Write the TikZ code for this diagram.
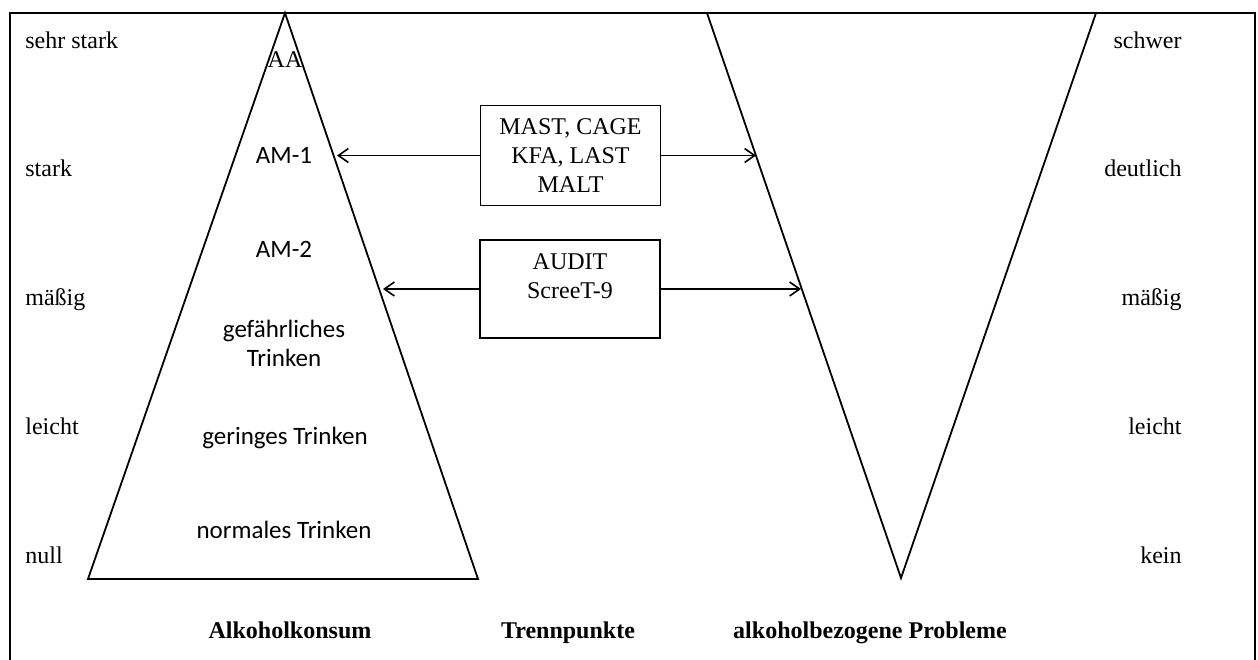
\documentclass[tikz,border=0pt]{standalone}
\usepackage{fontspec}
\setmainfont{Liberation Serif}
\newfontfamily\calibrifont{Carlito}
\usetikzlibrary{arrows.meta,positioning}

\begin{document}
\begin{tikzpicture}[
  x=0.5pt, y=-0.5pt,
  scalelbl/.style={font=\fontsize{12}{14.4}\selectfont, inner sep=0pt},
  level/.style={font=\calibrifont\fontsize{12.5}{14.6}\selectfont,
    align=center, inner sep=0pt},
  box/.style={draw, line width=0.9pt, font=\fontsize{12}{14.4}\selectfont,
    align=center, minimum width=90pt, minimum height=50pt, inner sep=2pt},
  title/.style={font=\bfseries\fontsize{12}{14.4}\selectfont, inner sep=0pt},
  arrow/.style={-{Straight Barb[length=5pt,width=7pt]}, line width=0.8pt},
  edge/.style={line width=0.9pt, line join=miter},
]
  \useasboundingbox (0,0) rectangle (1258,659);
  \clip (0,0) rectangle (1258,659);

  % Rahmen
  \draw[line width=1pt] (10,680) -- (10,13) -- (1255,13) -- (1255,680);

  % Pyramide Alkoholkonsum
  \coordinate (topL) at (285,13);
  \coordinate (baseLW) at (88,579);
  \coordinate (baseLE) at (478,579);
  \draw[edge] (topL) -- (baseLE) -- (baseLW) -- cycle;

  % Trichter alkoholbezogene Probleme
  \coordinate (topRW) at (707,13);
  \coordinate (topRE) at (1096,13);
  \coordinate (tipR) at (901,578);
  \draw[edge] (topRW) -- (topRE) -- (tipR) -- cycle;

  % Stufen in der Pyramide
  \node[scalelbl, anchor=base] (aa) at (285,67) {AA};
  \node[level, anchor=base] (am1) at (284,163) {AM-1};
  \node[level, anchor=base] (am2) at (284,257) {AM-2};
  \node[level] (gef) at (284,343) {gefährliches\\Trinken};
  \node[level] (ger) at (285,438) {geringes Trinken};
  \node[level, anchor=base] (norm) at (284,538) {normales Trinken};

  % Skalen links und rechts
  \foreach \lbl/\yy [count=\i] in {sehr stark/48, stark/176, mäßig/305, leicht/434, null/563} {
    \node[scalelbl, anchor=base west] (links\i) at (25,\yy) {\lbl};
  }
  \foreach \lbl/\yy [count=\i] in {schwer/48, deutlich/176, mäßig/305, leicht/434, kein/563} {
    \node[scalelbl, anchor=base east] (rechts\i) at (1182,\yy) {\lbl};
  }

  % Screening-Instrumente
  \node[box] (box1) at (570.5,155.5) {MAST, CAGE\\KFA, LAST\\MALT};
  \node[box, minimum height=49pt] (box2) at (570,289) {};
  \node[scalelbl, align=center, below=7pt of box2.north] (box2txt) {AUDIT\\ScreeT-9};

  % Trennpunkte auf beiden Seiten
  \coordinate (hitL1) at (337,155.5);
  \coordinate (hitR1) at (756,155.5);
  \coordinate (hitL2) at (383,289);
  \coordinate (hitR2) at (801,289);
  \draw[arrow] (box1.west) -- (hitL1);
  \draw[arrow] (box1.east) -- (hitR1);
  \draw[arrow] (box2.west) -- (hitL2);
  \draw[arrow] (box2.east) -- (hitR2);

  % Achsentitel
  \node[title, anchor=base] (tkonsum) at (290,638) {Alkoholkonsum};
  \node[title, anchor=base] (ttrenn) at (568,638) {Trennpunkte};
  \node[title, anchor=base] (tprobl) at (870,638) {alkoholbezogene Probleme};

\end{tikzpicture}
\end{document}
